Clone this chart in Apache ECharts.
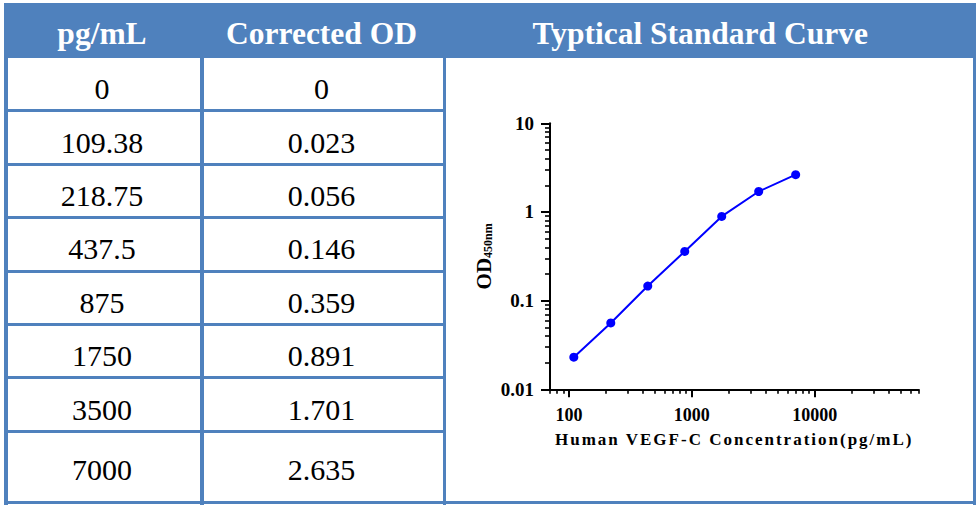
<!DOCTYPE html>
<html><head><meta charset="utf-8">
<script src="https://cdn.jsdelivr.net/npm/echarts@6/dist/echarts.min.js"></script>
<style>
html,body{margin:0;padding:0;width:980px;height:505px;overflow:hidden;background:#fff;}
#wrap{position:relative;width:980px;height:505px;}
.cell{position:absolute;display:flex;align-items:center;justify-content:center;font-family:"Liberation Serif","Times New Roman",serif;font-size:30px;color:#000;white-space:nowrap;}
.hd{color:#fff;font-weight:bold;font-size:31.5px;}
.ln{position:absolute;background:#4F81BD;}
#chart{position:absolute;left:0;top:0;width:980px;height:505px;}
</style></head><body>
<div id="wrap"><div id="chart"></div></div>
<script>
// ---- data ----
const headers = ['pg/mL', 'Corrected OD', 'Typtical Standard Curve'];
const concLabels = ['0', '109.38', '218.75', '437.5', '875', '1750', '3500', '7000'];
const odLabels = ['0', '0.023', '0.056', '0.146', '0.359', '0.891', '1.701', '2.635'];
const concValues = [0, 109.38, 218.75, 437.5, 875, 1750, 3500, 7000];
const odValues = [0, 0.023, 0.056, 0.146, 0.359, 0.891, 1.701, 2.635];
const xMajorTicks = [100, 1000, 10000];
const xMinorTicks = [70, 80, 90, 200, 300, 400, 500, 600, 700, 800, 900, 2000, 3000, 4000, 5000, 6000, 7000, 8000, 9000, 20000, 30000, 40000, 50000, 60000, 70000];
const yMajorTicks = [0.01, 0.1, 1, 10];
const yMinorTicks = [0.02, 0.03, 0.04, 0.05, 0.06, 0.07, 0.08, 0.09, 0.2, 0.3, 0.4, 0.5, 0.6, 0.7, 0.8, 0.9, 2, 3, 4, 5, 6, 7, 8, 9];
const xAxisName = 'Human VEGF-C Concentration(pg/mL)';
const yAxisName = ['OD', '450nm'];

// ---- table layout ----
const wrap = document.getElementById('wrap');
function box(cls, l, t, w, h, txt) {
  const d = document.createElement('div');
  d.className = cls;
  d.style.left = l + 'px'; d.style.top = t + 'px';
  d.style.width = w + 'px'; d.style.height = h + 'px';
  if (txt !== undefined) d.textContent = txt;
  wrap.insertBefore(d, document.getElementById('chart'));
  return d;
}
const L = 4, R = 975.5, T = 2.5, HB = 58, B = 504.5, C1 = 200, C2 = 443, LW = 3.2;
const rowStep = 53.4;
box('ln', L, T, R - L, HB - T);
const rowTops = [];
for (let k = 0; k < concLabels.length; k++) rowTops.push(HB - 0.5 + rowStep * k);
rowTops.push(B);
for (let k = 1; k < concLabels.length; k++) box('ln', L, rowTops[k] - LW / 2, C2 - L, LW);
box('ln', L, B - LW, R - L, LW);
box('ln', L, T, 3.5, B - T);
box('ln', R - 3, T, 3, B - T);
box('ln', C1, HB - 1, 3.5, B - HB + 1);
box('ln', C2, HB - 1, 3.2, B - HB + 1);
box('cell hd', L, T + 4, C1 - L, HB - T, headers[0]);
box('cell hd', C1, T + 4, C2 - C1, HB - T, headers[1]);
box('cell hd', C2 - 9, T + 4, R - C2, HB - T, headers[2]);
for (let k = 0; k < concLabels.length; k++) {
  const top = rowTops[k], h = rowTops[k + 1] - rowTops[k];
  const dy = k === concLabels.length - 1 ? 2.5 : 5;
  box('cell', L, top + dy, C1 - L, h, concLabels[k]);
  box('cell', C1, top + dy, C2 - C1, h, odLabels[k]);
}

// ---- chart ----
const pts = [];
for (let i = 0; i < concValues.length; i++) {
  if (concValues[i] > 0 && odValues[i] > 0) pts.push([concValues[i], odValues[i]]);
}
const FONT = '"Liberation Serif","Times New Roman",serif';
const fmt = v => String(+(+v).toPrecision(6));
const gridRect = { left: 550, top: 123.3, width: 368.5, height: 266 };
const chart = echarts.init(document.getElementById('chart'), null, { renderer: 'svg' });
chart.setOption({
  animation: false,
  backgroundColor: 'transparent',
  grid: [Object.assign({}, gridRect), Object.assign({}, gridRect)],
  xAxis: [{
    type: 'log', logBase: 10, min: 70, max: 70000, gridIndex: 0,
    name: xAxisName, nameLocation: 'middle', nameGap: 42,
    nameTextStyle: { fontFamily: FONT, fontWeight: 'bold', fontSize: 17, color: '#000' },
    axisLine: { show: true, lineStyle: { color: '#000', width: 2 } },
    axisTick: { show: true, length: 8, lineStyle: { color: '#000', width: 2 }, customValues: xMajorTicks },
    axisLabel: { show: true, customValues: xMajorTicks, formatter: fmt, margin: 17, color: '#000', fontFamily: FONT, fontWeight: 'bold', fontSize: 18 },
    splitLine: { show: false }, minorTick: { show: false }
  }, {
    type: 'log', logBase: 10, min: 70, max: 70000, gridIndex: 1, position: 'bottom',
    axisLine: { show: false },
    axisTick: { show: true, length: 4.5, lineStyle: { color: '#000', width: 1.6 }, customValues: xMinorTicks },
    axisLabel: { show: false }, splitLine: { show: false }
  }],
  yAxis: [{
    type: 'log', logBase: 10, min: 0.01, max: 10, gridIndex: 0,
    name: '{a|' + yAxisName[0] + '}{b|' + yAxisName[1] + '}', nameLocation: 'middle', nameGap: 56, nameRotate: 90,
    nameTextStyle: {
      color: '#000',
      rich: {
        a: { fontFamily: FONT, fontWeight: 'bold', fontSize: 21, color: '#000', lineHeight: 26, verticalAlign: 'bottom' },
        b: { fontFamily: FONT, fontWeight: 'bold', fontSize: 12, color: '#000', lineHeight: 26, verticalAlign: 'bottom', padding: [9, 0, 0, 0] }
      }
    },
    axisLine: { show: true, lineStyle: { color: '#000', width: 2 } },
    axisTick: { show: true, length: 9, lineStyle: { color: '#000', width: 2 }, customValues: yMajorTicks },
    axisLabel: { show: true, customValues: yMajorTicks, formatter: fmt, margin: 16, color: '#000', fontFamily: FONT, fontWeight: 'bold', fontSize: 19 },
    splitLine: { show: false }, minorTick: { show: false }
  }, {
    type: 'log', logBase: 10, min: 0.01, max: 10, gridIndex: 1, position: 'left',
    axisLine: { show: false },
    axisTick: { show: true, length: 5, lineStyle: { color: '#000', width: 1.6 }, customValues: yMinorTicks },
    axisLabel: { show: false }, splitLine: { show: false }
  }],
  series: [{
    type: 'line', xAxisIndex: 0, yAxisIndex: 0, data: pts,
    symbol: 'circle', symbolSize: 9, showSymbol: true,
    itemStyle: { color: '#0000FF' },
    lineStyle: { color: '#0000FF', width: 2 }
  }]
});
function spaceTitle() {
  document.querySelectorAll('#chart svg text').forEach(t => {
    if (t.textContent === xAxisName) t.style.letterSpacing = '2px';
  });
}
spaceTitle();
chart.on('finished', spaceTitle);
</script>
</body></html>
